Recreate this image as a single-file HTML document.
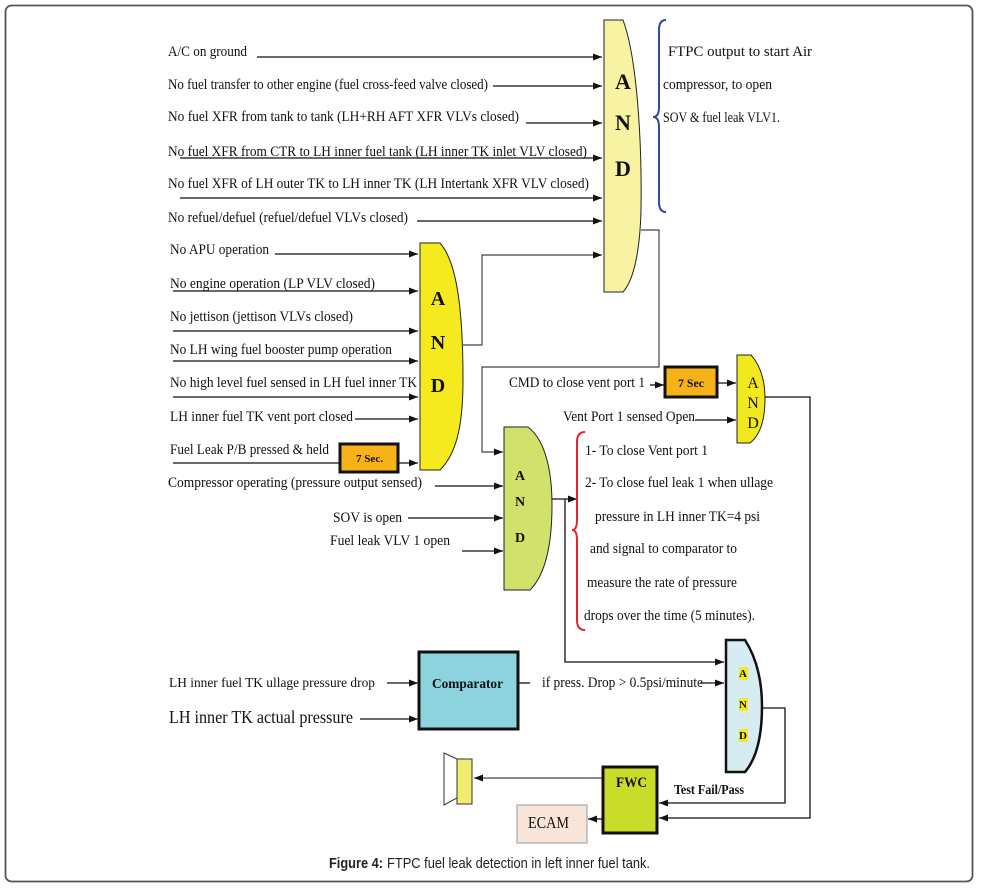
<!DOCTYPE html>
<html>
<head>
<meta charset="utf-8">
<style>
html,body{margin:0;padding:0;background:#fff;}
svg{display:block;}
.t{font-family:"Liberation Serif",serif;font-size:15px;fill:#111;}
.b{font-family:"Liberation Serif",serif;font-weight:bold;fill:#111;}
.ln{stroke:#111;stroke-width:1.3;fill:none;}
.cn{stroke:#444;stroke-width:1.2;fill:none;}
</style>
</head>
<body>
<svg width="981" height="890" viewBox="0 0 981 890" xmlns="http://www.w3.org/2000/svg">
<defs>
<marker id="a" markerWidth="9" markerHeight="7" refX="9" refY="3.5" orient="auto" markerUnits="userSpaceOnUse">
<path d="M0,0 L9,3.5 L0,7 z" fill="#111"/>
</marker>
</defs>

<!-- frame -->
<rect x="5.5" y="5.5" width="967" height="876" rx="6" ry="6" fill="none" stroke="#555" stroke-width="1.8"/>

<!-- ===== Gate 1 ===== -->
<path d="M604,20 L623,20 C638,60 642,150 641,210 C640,250 634,280 623,292 L604,292 Z" fill="#f7f3a2" stroke="#222" stroke-width="1"/>
<text class="b" x="623" y="89" style="font-size:22px" text-anchor="middle">A</text>
<text class="b" x="623" y="130" style="font-size:22px" text-anchor="middle">N</text>
<text class="b" x="623" y="176" style="font-size:22px" text-anchor="middle">D</text>

<text class="t" x="168" y="56" textLength="79" lengthAdjust="spacingAndGlyphs">A/C on ground</text>
<text class="t" x="168" y="89" textLength="320" lengthAdjust="spacingAndGlyphs">No fuel transfer to other engine (fuel cross-feed valve closed)</text>
<text class="t" x="168" y="121" textLength="351" lengthAdjust="spacingAndGlyphs">No fuel XFR from tank to tank (LH+RH AFT XFR VLVs closed)</text>
<text class="t" x="168" y="156" textLength="419" lengthAdjust="spacingAndGlyphs">No fuel XFR from CTR to LH inner fuel tank (LH inner TK inlet VLV closed)</text>
<text class="t" x="168" y="188" textLength="421" lengthAdjust="spacingAndGlyphs">No fuel XFR of LH outer TK to LH inner TK (LH Intertank XFR VLV closed)</text>
<text class="t" x="168" y="222" textLength="240" lengthAdjust="spacingAndGlyphs">No refuel/defuel (refuel/defuel VLVs closed)</text>

<line class="ln" x1="257" y1="57" x2="602" y2="57" marker-end="url(#a)"/>
<line class="ln" x1="493" y1="86" x2="602" y2="86" marker-end="url(#a)"/>
<line class="ln" x1="526" y1="123" x2="602" y2="123" marker-end="url(#a)"/>
<line class="ln" x1="180" y1="158" x2="602" y2="158" marker-end="url(#a)"/>
<line class="ln" x1="180" y1="198" x2="602" y2="198" marker-end="url(#a)"/>
<line class="ln" x1="417" y1="221" x2="602" y2="221" marker-end="url(#a)"/>

<!-- blue brace -->
<path d="M666,20 Q659,20 659,30 L659,107 Q659,117 653,117 Q659,117 659,127 L659,202 Q659,212 666,212" fill="none" stroke="#2b4aa0" stroke-width="2"/>
<text class="t" x="668" y="56" textLength="144" lengthAdjust="spacingAndGlyphs">FTPC output to start Air</text>
<text class="t" x="663" y="89" textLength="109" lengthAdjust="spacingAndGlyphs">compressor, to open</text>
<text class="t" x="663" y="122" textLength="117" lengthAdjust="spacingAndGlyphs">SOV &amp; fuel leak VLV1.</text>

<!-- ===== Gate 2 ===== -->
<path d="M420,243 L440,243 C455,260 463,300 463,380 C463,430 455,455 440,470 L420,470 Z" fill="#f5ea1e" stroke="#222" stroke-width="1"/>
<text class="b" x="438" y="305" style="font-size:20px" text-anchor="middle">A</text>
<text class="b" x="438" y="349" style="font-size:20px" text-anchor="middle">N</text>
<text class="b" x="438" y="392" style="font-size:20px" text-anchor="middle">D</text>

<text class="t" x="170" y="254" textLength="99" lengthAdjust="spacingAndGlyphs">No APU operation</text>
<text class="t" x="170" y="288" textLength="205" lengthAdjust="spacingAndGlyphs">No engine operation (LP VLV closed)</text>
<text class="t" x="170" y="321" textLength="183" lengthAdjust="spacingAndGlyphs">No jettison (jettison VLVs closed)</text>
<text class="t" x="170" y="354" textLength="222" lengthAdjust="spacingAndGlyphs">No LH wing fuel booster pump operation</text>
<text class="t" x="170" y="387" textLength="247" lengthAdjust="spacingAndGlyphs">No high level fuel sensed in LH fuel inner TK</text>
<text class="t" x="170" y="421" textLength="183" lengthAdjust="spacingAndGlyphs">LH inner fuel TK vent port closed</text>
<text class="t" x="170" y="454" textLength="159" lengthAdjust="spacingAndGlyphs">Fuel Leak P/B pressed &amp; held</text>

<line class="ln" x1="275" y1="254" x2="418" y2="254" marker-end="url(#a)"/>
<line class="ln" x1="173" y1="291" x2="418" y2="291" marker-end="url(#a)"/>
<line class="ln" x1="173" y1="331" x2="418" y2="331" marker-end="url(#a)"/>
<line class="ln" x1="173" y1="361" x2="418" y2="361" marker-end="url(#a)"/>
<line class="ln" x1="173" y1="397" x2="418" y2="397" marker-end="url(#a)"/>
<line class="ln" x1="355" y1="419" x2="418" y2="419" marker-end="url(#a)"/>
<line class="ln" x1="173" y1="463" x2="418" y2="463" marker-end="url(#a)"/>

<rect x="340" y="444" width="58" height="28" fill="#f7b21a" stroke="#111" stroke-width="3"/>
<text class="b" x="356" y="462" style="font-size:11px" textLength="27" lengthAdjust="spacingAndGlyphs">7 Sec.</text>

<!-- connectors gate2 -> gate1, gate1 -> gate3 -->
<polyline class="cn" points="463,345 482,345 482,255 602,255" marker-end="url(#a)"/>
<polyline class="cn" points="641,230 659,230 659,367 482,367 482,452 503,452" marker-end="url(#a)"/>

<!-- ===== Gate 3 ===== -->
<path d="M504,427 L528,427 C545,440 552,470 552,505 C552,545 545,575 530,590 L504,590 Z" fill="#d2e06c" stroke="#222" stroke-width="1"/>
<text class="b" x="520" y="480" style="font-size:14px" text-anchor="middle">A</text>
<text class="b" x="520" y="506" style="font-size:14px" text-anchor="middle">N</text>
<text class="b" x="520" y="542" style="font-size:14px" text-anchor="middle">D</text>

<text class="t" x="168" y="487" textLength="254" lengthAdjust="spacingAndGlyphs">Compressor operating (pressure output sensed)</text>
<text class="t" x="333" y="522" textLength="69" lengthAdjust="spacingAndGlyphs">SOV is open</text>
<text class="t" x="330" y="545" textLength="120" lengthAdjust="spacingAndGlyphs">Fuel leak VLV 1 open</text>

<line class="ln" x1="435" y1="486" x2="503" y2="486" marker-end="url(#a)"/>
<line class="ln" x1="408" y1="518" x2="503" y2="518" marker-end="url(#a)"/>
<line class="ln" x1="462" y1="551" x2="503" y2="551" marker-end="url(#a)"/>

<line class="ln" x1="552" y1="499" x2="577" y2="499" marker-end="url(#a)"/>
<polyline class="ln" points="565,499 565,662 724,662" marker-end="url(#a)"/>

<!-- red brace -->
<path d="M585,432 Q577,432 577,442 L577,520 Q577,530 572,530 Q577,530 577,540 L577,620 Q577,630 585,630" fill="none" stroke="#e0262a" stroke-width="2"/>
<text class="t" x="585" y="455" textLength="123" lengthAdjust="spacingAndGlyphs">1- To close Vent port 1</text>
<text class="t" x="585" y="487" textLength="188" lengthAdjust="spacingAndGlyphs">2- To close fuel leak 1 when ullage</text>
<text class="t" x="595" y="521" textLength="165" lengthAdjust="spacingAndGlyphs">pressure in LH inner TK=4 psi</text>
<text class="t" x="590" y="553" textLength="147" lengthAdjust="spacingAndGlyphs">and signal to comparator to</text>
<text class="t" x="587" y="587" textLength="150" lengthAdjust="spacingAndGlyphs">measure the rate of pressure</text>
<text class="t" x="584" y="620" textLength="171" lengthAdjust="spacingAndGlyphs">drops over the time (5 minutes).</text>

<!-- ===== Gate 4 ===== -->
<path d="M737,355 L751,355 C760,365 765,380 765,399 C765,420 760,435 750,443 L737,443 Z" fill="#f2e81e" stroke="#222" stroke-width="1"/>
<text class="t" x="753" y="388" style="font-size:16px" text-anchor="middle">A</text>
<text class="t" x="753" y="408" style="font-size:16px" text-anchor="middle">N</text>
<text class="t" x="753" y="428" style="font-size:16px" text-anchor="middle">D</text>

<text class="t" x="509" y="387" textLength="136" lengthAdjust="spacingAndGlyphs">CMD to close vent port 1</text>
<line class="ln" x1="650" y1="385" x2="664" y2="385" marker-end="url(#a)"/>
<rect x="665" y="367" width="52" height="30" fill="#f7b21a" stroke="#111" stroke-width="3"/>
<text class="b" x="678" y="387" style="font-size:12px" textLength="26" lengthAdjust="spacingAndGlyphs">7 Sec</text>
<line class="ln" x1="717" y1="383" x2="736" y2="383" marker-end="url(#a)"/>
<text class="t" x="563" y="421" textLength="132" lengthAdjust="spacingAndGlyphs">Vent Port 1 sensed Open</text>
<line class="ln" x1="695" y1="420" x2="736" y2="420" marker-end="url(#a)"/>

<polyline class="ln" points="765,397 810,397 810,818 659,818" marker-end="url(#a)"/>

<!-- ===== Comparator ===== -->
<rect x="419" y="652" width="99" height="77" fill="#8cd3de" stroke="#111" stroke-width="3"/>
<text class="b" x="432" y="688" style="font-size:14px" textLength="71" lengthAdjust="spacingAndGlyphs">Comparator</text>
<text class="t" x="169" y="687" style="font-size:14px" textLength="206" lengthAdjust="spacingAndGlyphs">LH inner fuel TK ullage pressure drop</text>
<line class="ln" x1="387" y1="683" x2="418" y2="683" marker-end="url(#a)"/>
<text class="t" x="169" y="723" style="font-size:18px" textLength="184" lengthAdjust="spacingAndGlyphs">LH inner TK actual pressure</text>
<line class="ln" x1="360" y1="719" x2="418" y2="719" marker-end="url(#a)"/>
<line class="ln" x1="518" y1="683" x2="530" y2="683"/>
<text class="t" x="542" y="687" textLength="161" lengthAdjust="spacingAndGlyphs">if press. Drop &gt; 0.5psi/minute</text>
<line class="ln" x1="700" y1="683" x2="724" y2="683" marker-end="url(#a)"/>

<!-- ===== Gate 5 ===== -->
<path d="M726,640 L745,640 C758,660 762,685 762,706 C762,735 757,758 745,772 L726,772 Z" fill="#d4ecf2" stroke="#111" stroke-width="2.5"/>
<rect x="739" y="667" width="9" height="13" fill="#f5ea1e"/>
<rect x="739" y="698" width="9" height="13" fill="#f5ea1e"/>
<rect x="739" y="729" width="9" height="13" fill="#f5ea1e"/>
<text class="b" x="743" y="677" style="font-size:11px" text-anchor="middle">A</text>
<text class="b" x="743" y="708" style="font-size:11px" text-anchor="middle">N</text>
<text class="b" x="743" y="739" style="font-size:11px" text-anchor="middle">D</text>

<polyline class="ln" points="762,708 785,708 785,803 659,803" marker-end="url(#a)"/>

<!-- ===== FWC ===== -->
<rect x="603" y="767" width="54" height="66" fill="#c9dc2a" stroke="#111" stroke-width="3"/>
<text class="b" x="616" y="787" style="font-size:15px" textLength="31" lengthAdjust="spacingAndGlyphs">FWC</text>
<text class="b" x="674" y="794" style="font-size:14px" textLength="70" lengthAdjust="spacingAndGlyphs">Test Fail/Pass</text>

<!-- speaker -->
<line class="cn" x1="602" y1="778" x2="474" y2="778" marker-end="url(#a)"/>
<polygon points="444,753 457,759 457,798 444,805" fill="#fff" stroke="#333" stroke-width="1"/>
<rect x="457" y="759" width="15" height="45" fill="#f0ec70" stroke="#333" stroke-width="1"/>

<!-- ECAM -->
<rect x="517" y="805" width="70" height="38" fill="#f9e5d8" stroke="#999" stroke-width="1"/>
<text class="t" x="528" y="828" style="font-size:17px" textLength="41" lengthAdjust="spacingAndGlyphs">ECAM</text>
<line class="ln" x1="603" y1="819" x2="588" y2="819" marker-end="url(#a)"/>

<!-- caption -->
<text x="329" y="868" font-family="'Liberation Sans',sans-serif" style="font-size:15px" font-weight="bold" fill="#222" textLength="54" lengthAdjust="spacingAndGlyphs">Figure 4:</text>
<text x="387" y="868" font-family="'Liberation Sans',sans-serif" style="font-size:15px" fill="#222" textLength="263" lengthAdjust="spacingAndGlyphs">FTPC fuel leak detection in left inner fuel tank.</text>
</svg>
</body>
</html>
